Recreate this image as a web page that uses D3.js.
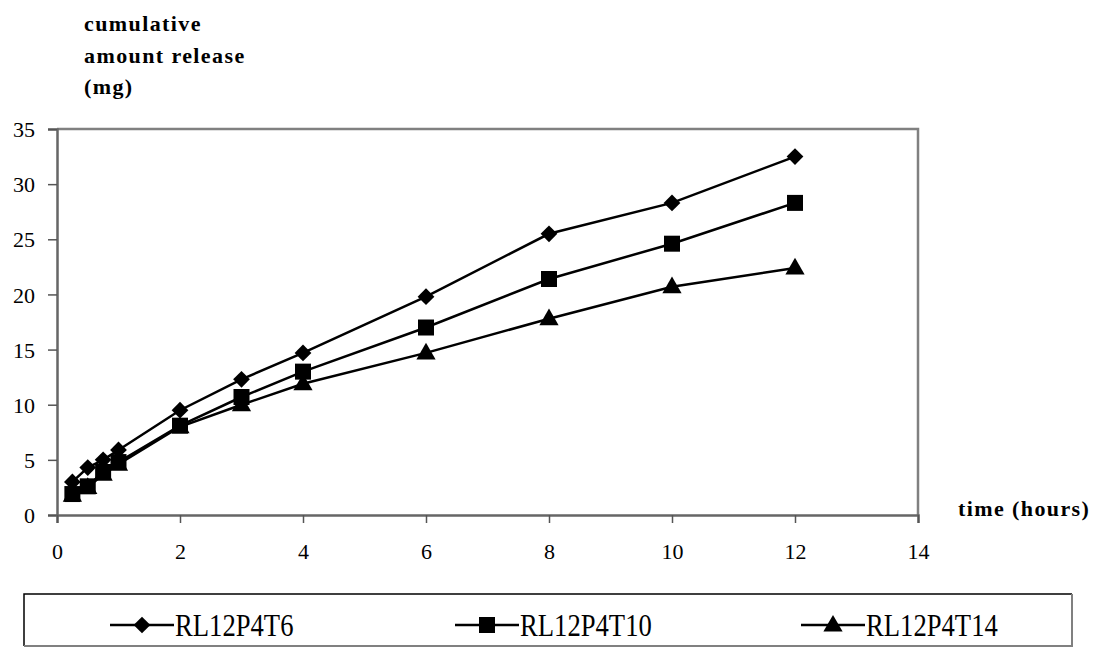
<!DOCTYPE html>
<html><head><meta charset="utf-8">
<script src="https://cdn.jsdelivr.net/npm/d3@7"></script>
<style>
html,body{margin:0;padding:0;background:#fff;}
svg{display:block;}
</style></head><body>
<svg id="chart" width="1097" height="648"></svg>
<script>
const times = [0.25, 0.5, 0.75, 1, 2, 3, 4, 6, 8, 10, 12];
const seriesNames = ["RL12P4T6", "RL12P4T10", "RL12P4T14"];
const valuesT6  = [3.0, 4.3, 5.0, 5.9, 9.5, 12.3, 14.7, 19.8, 25.5, 28.3, 32.5];
const valuesT10 = [1.9, 2.6, 3.9, 4.8, 8.1, 10.7, 13.0, 17.0, 21.4, 24.6, 28.3];
const valuesT14 = [1.8, 2.5, 3.7, 4.6, 8.0, 10.0, 11.9, 14.7, 17.8, 20.7, 22.4];
const xTicks = [0, 2, 4, 6, 8, 10, 12, 14];
const yTicks = [0, 5, 10, 15, 20, 25, 30, 35];
const yTitleLines = ["cumulative", "amount release", "(mg)"];
const xTitle = "time (hours)";
const markerTypes = ["diamond", "square", "triangle"];

const FONT = "'Liberation Serif', Tinos, 'Times New Roman', Times, serif";
const svg = d3.select("#chart");
const L = 57, R = 918, T = 129, B = 515;
const x = d3.scaleLinear().domain([0, 14]).range([L, R]);
const y = d3.scaleLinear().domain([0, 35]).range([B, T]);

// plot frame (top & right)
svg.append("path")
  .attr("d", `M${L},${T}H${R}V${B}`)
  .attr("fill", "none").attr("stroke", "#808080").attr("stroke-width", 2.5);

// axes
const yAxis = svg.append("g").attr("transform", `translate(${L},0)`)
  .call(d3.axisLeft(y).tickValues(yTicks).tickSize(9).tickPadding(13).tickFormat(d3.format("d")));
const xAxis = svg.append("g").attr("transform", `translate(0,${B})`)
  .call(d3.axisBottom(x).tickValues(xTicks).tickSize(8).tickPadding(20).tickFormat(d3.format("d")));
[yAxis, xAxis].forEach(g => {
  g.attr("font-family", null).attr("font-size", null);
  g.select(".domain").attr("stroke", "#666").attr("stroke-width", 2.5);
  g.selectAll(".tick line").attr("stroke", "#555").attr("stroke-width", 1.5);
  g.selectAll(".tick text").style("font-size", "22px").style("font-family", FONT).attr("fill", "#000");
});
yAxis.selectAll(".tick text").attr("dy", "0.35em");

// titles
const yt = svg.append("text").style("font-family", FONT).style("font-size", "22px")
  .style("font-weight", "bold").style("letter-spacing", "1.4px");
yTitleLines.forEach((s, i) => {
  yt.append("tspan").attr("x", 84).attr("y", 31 + i * 31.5).text(s);
});
svg.append("text").attr("x", 958).attr("y", 516).style("font-family", FONT).style("font-size", "22px")
  .style("font-weight", "bold").style("letter-spacing", "1.4px").text(xTitle);

// series
const allValues = [valuesT6, valuesT10, valuesT14];
const line = d3.line().x(d => x(d[0])).y(d => y(d[1]));

function drawMarker(g, type, cx, cy) {
  if (type === "diamond") {
    g.append("path").attr("d", d3.symbol().type(d3.symbolSquare).size(140)())
      .attr("transform", `translate(${cx},${cy}) rotate(45)`).attr("fill", "#000");
  } else if (type === "square") {
    g.append("path").attr("d", d3.symbol().type(d3.symbolSquare).size(256)())
      .attr("transform", `translate(${cx},${cy})`).attr("fill", "#000");
  } else {
    g.append("path").attr("d", d3.symbol().type(d3.symbolTriangle).size(160)())
      .attr("transform", `translate(${cx},${cy + 1})`).attr("fill", "#000");
  }
}

[2, 1, 0].forEach(si => {
  const data = times.map((t, i) => [t, allValues[si][i]]);
  const g = svg.append("g");
  g.append("path").attr("d", line(data)).attr("fill", "none").attr("stroke", "#000").attr("stroke-width", 2.5);
  data.forEach(d => drawMarker(g, markerTypes[si], x(d[0]), y(d[1])));
});

// legend
const lg = svg.append("g");
lg.append("path").attr("d", "M24,646V594H1072")
  .attr("fill", "none").attr("stroke", "#000").attr("stroke-width", 1.5);
lg.append("path").attr("d", "M1072,594V646H24")
  .attr("fill", "none").attr("stroke", "#808080").attr("stroke-width", 2);
const legX = [110, 455, 801];
seriesNames.forEach((name, i) => {
  const lx = legX[i], ly = 625;
  lg.append("line").attr("x1", lx).attr("x2", lx + 64).attr("y1", ly).attr("y2", ly)
    .attr("stroke", "#000").attr("stroke-width", 2.5);
  drawMarker(lg, markerTypes[i], lx + 32, ly);
  lg.append("text").attr("transform", `translate(${lx + 65},${ly + 10.5}) scale(0.86,1)`)
    .style("font-family", FONT).style("font-size", "31px").text(name);
});
</script>
</body></html>
